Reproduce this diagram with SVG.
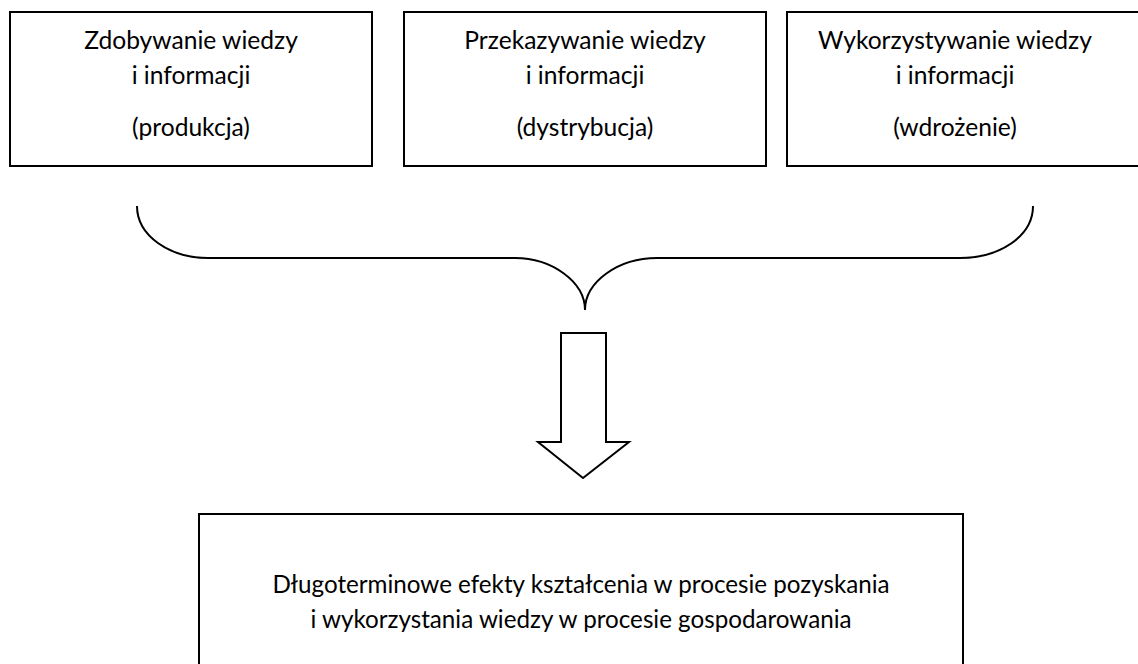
<svg xmlns="http://www.w3.org/2000/svg" width="1138" height="664" viewBox="0 0 1138 664">
<style>
.box{fill:#fff;stroke:#000;stroke-width:2}
.line{fill:none;stroke:#000;stroke-width:2}
text{font-family:Lato,"Open Sans","Liberation Sans",sans-serif;font-size:24.6px;fill:#000;text-anchor:middle}
.b{font-size:24.2px}
</style>
<rect width="1138" height="664" fill="#fff"/>
<g id="node-zdobywanie">
<rect class="box" x="10" y="12" width="362" height="154"/>
<text x="191" y="49">Zdobywanie wiedzy</text>
<text x="191" y="84">i informacji</text>
<text x="191" y="136">(produkcja)</text>
</g>
<g id="node-przekazywanie">
<rect class="box" x="404" y="12" width="362" height="154"/>
<text x="585" y="49">Przekazywanie wiedzy</text>
<text x="585" y="84">i informacji</text>
<text x="585" y="136">(dystrybucja)</text>
</g>
<g id="node-wykorzystywanie">
<rect class="box" x="787" y="12" width="370" height="154"/>
<text x="955" y="49">Wykorzystywanie wiedzy</text>
<text x="955" y="84">i informacji</text>
<text x="955" y="136">(wdrożenie)</text>
</g>
<g id="connectors">
<path class="line" d="M137,206 C137,236 170,258 208,258 L515,258 C552,258 585,282 585,310 C585,282 618,258 657,258 L960,258 C1000,258 1033,236 1033,206"/>
<path class="line" d="M561,333 L606,333 L606,442 L629,442 L583,478 L538,442 L561,442 Z"/>
</g>
<g id="node-efekty">
<rect class="box" x="199" y="514" width="764" height="170"/>
<text class="b" x="581" y="593">Długoterminowe efekty kształcenia w procesie pozyskania</text>
<text class="b" x="581" y="628">i wykorzystania wiedzy w procesie gospodarowania</text>
</g>
</svg>
